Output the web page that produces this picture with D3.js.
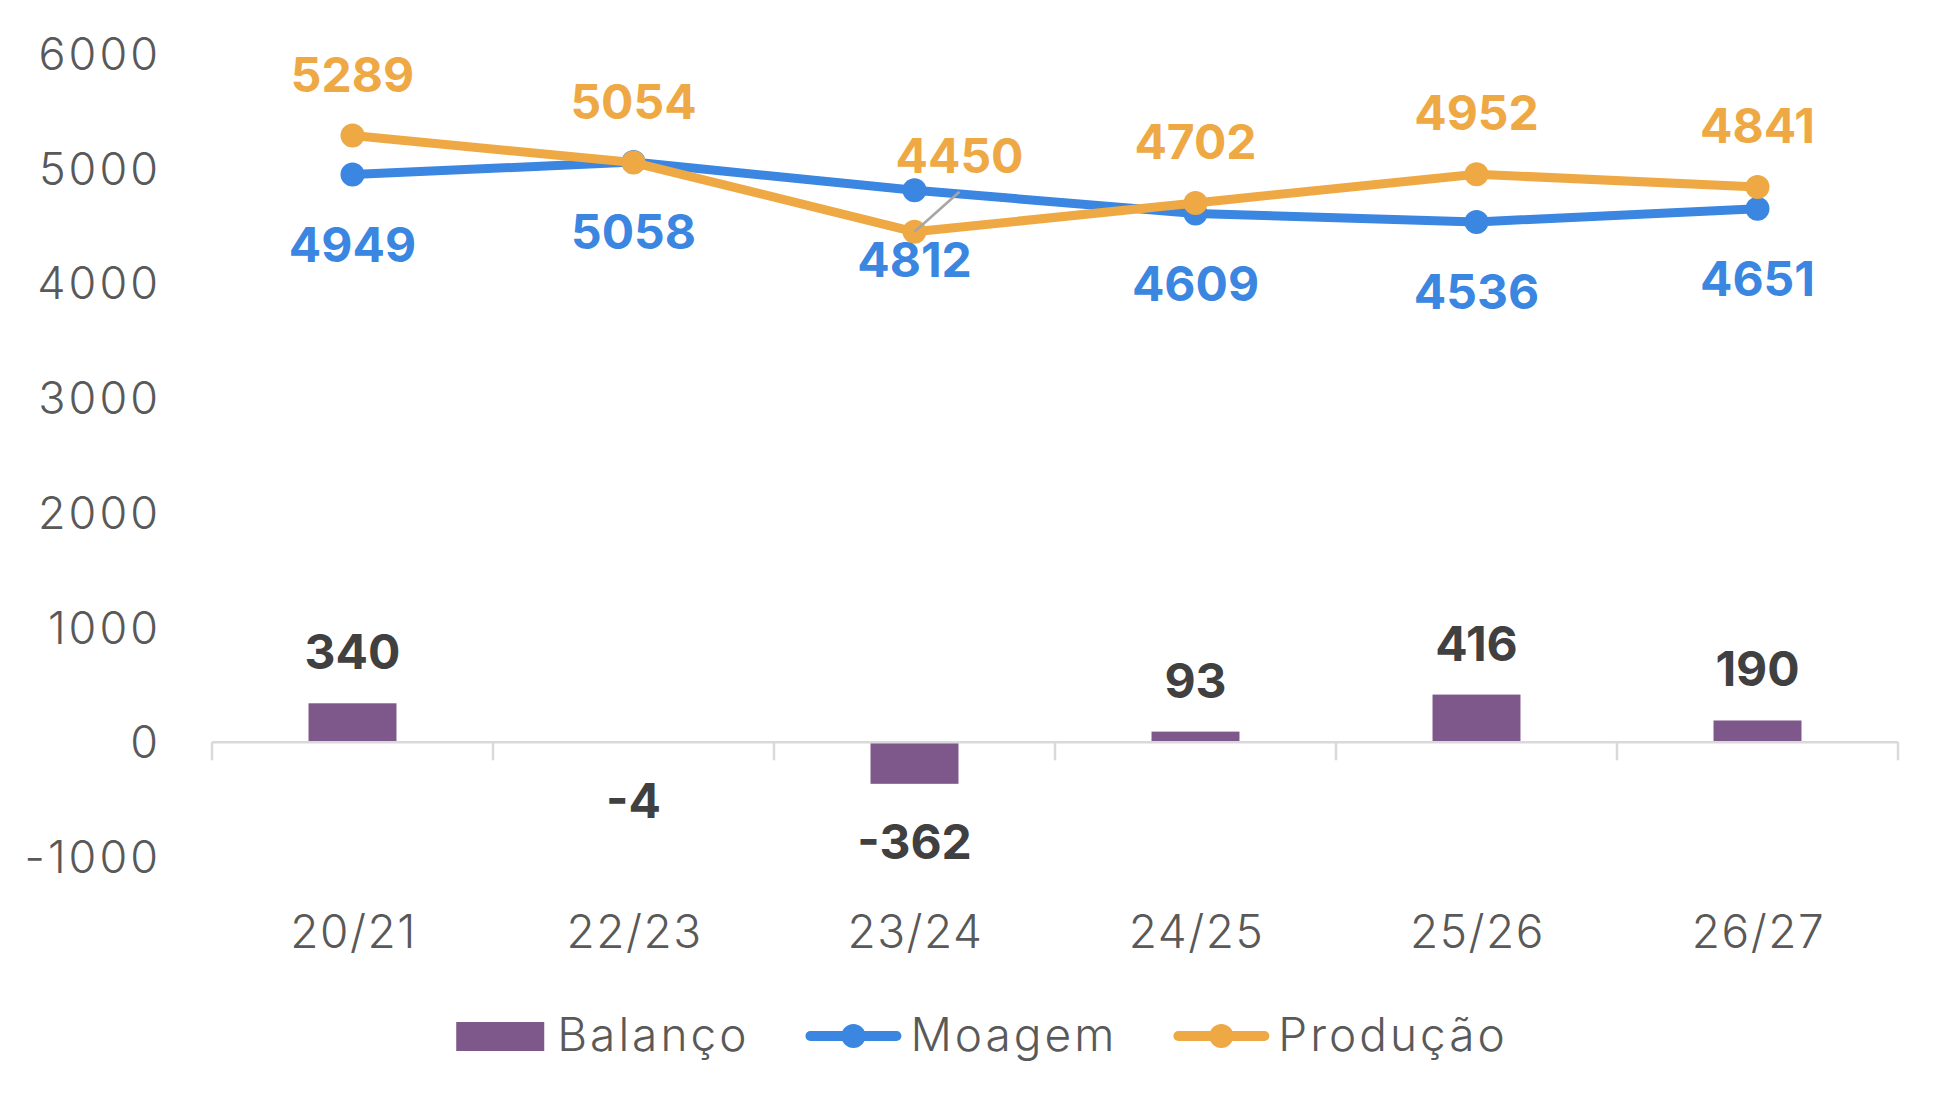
<!DOCTYPE html>
<html>
<head>
<meta charset="utf-8">
<script src="https://cdn.jsdelivr.net/npm/d3@7"></script>
<style>
  html, body { margin: 0; padding: 0; background: #fff; }
  svg { display: block; font-family: Inter, "Noto Sans", sans-serif; }
  .light { font-weight: 300; fill: #595959; letter-spacing: 3px; }
</style>
</head>
<body>
<svg id="chart"></svg>
<script>
// safra labels and the three series
const safras = ['20/21', '22/23', '23/24', '24/25', '25/26', '26/27'];
const balanco = [340, -4, -362, 93, 416, 190];
const moagem = [4949, 5058, 4812, 4609, 4536, 4651];
const producao = [5289, 5054, 4450, 4702, 4952, 4841];
const yTicks = [-1000, 0, 1000, 2000, 3000, 4000, 5000, 6000];

const W = 1949, H = 1111;
const colors = { bal: '#7f588b', moa: '#3a86e0', pro: '#eea944' };

const svg = d3.select('#chart').attr('width', W).attr('height', H);

const x = d3.scaleBand().domain(safras).range([212, 1898]);
const xBar = d3.scaleBand().domain(safras).range([212, 1898])
    .paddingInner(0.687).paddingOuter(0.3435);
const y = d3.scaleLinear().domain([-1000, 6000]).range([857, 54]);
const cx = d => x(d) + x.bandwidth() / 2;

// y tick labels (no axis line)
svg.append('g').selectAll('text')
    .data(yTicks).enter().append('text')
    .attr('class', 'light')
    .attr('x', 161).attr('y', d => y(d) + 16)
    .attr('text-anchor', 'end')
    .style('font-size', '45px')
    .text(d => d);

// bars
svg.append('g').selectAll('rect')
    .data(safras).enter().append('rect')
    .attr('x', d => xBar(d))
    .attr('width', xBar.bandwidth())
    .attr('y', (d, i) => y(Math.max(0, balanco[i])))
    .attr('height', (d, i) => Math.abs(y(balanco[i]) - y(0)))
    .attr('fill', colors.bal);

// x axis at zero
const xAxis = svg.append('g')
    .attr('transform', `translate(0, ${y(0)})`);
xAxis.append('line')
    .attr('x1', 212).attr('x2', 1898)
    .attr('stroke', '#d9d9d9').attr('stroke-width', 2.5);
xAxis.selectAll('.tk')
    .data(safras.concat([null])).enter().append('line')
    .attr('x1', (d, i) => 212 + i * x.step()).attr('x2', (d, i) => 212 + i * x.step())
    .attr('y1', 0).attr('y2', 18)
    .attr('stroke', '#d9d9d9').attr('stroke-width', 2.5);

svg.append('g').selectAll('text')
    .data(safras).enter().append('text')
    .attr('class', 'light')
    .attr('x', d => cx(d) + 1).attr('y', 948)
    .attr('text-anchor', 'middle')
    .style('font-size', '46px').style('letter-spacing', '1.5px')
    .text(d => d);

// lines
const line = d3.line().x((d, i) => cx(safras[i])).y(d => y(d));
[[moagem, colors.moa], [producao, colors.pro]].forEach(([vals, c]) => {
    svg.append('path')
        .datum(vals)
        .attr('d', line)
        .attr('fill', 'none')
        .attr('stroke', c)
        .attr('stroke-width', 9)
        .attr('stroke-linejoin', 'round');
    svg.append('g').selectAll('circle')
        .data(vals).enter().append('circle')
        .attr('cx', (d, i) => cx(safras[i]))
        .attr('cy', d => y(d))
        .attr('r', 12)
        .attr('fill', c);
});

// leader line for the 23/24 producao label
svg.append('line')
    .attr('x1', cx('23/24')).attr('y1', y(producao[2]))
    .attr('x2', cx('23/24') + 45).attr('y2', y(producao[2]) - 40)
    .attr('stroke', '#a6a6a6').attr('stroke-width', 2.5);

// data labels
const lbl = svg.append('g')
    .style('font-size', '48px').style('font-weight', 700)
    .attr('text-anchor', 'middle');

lbl.selectAll('.pro')
    .data(producao).enter().append('text')
    .attr('x', (d, i) => cx(safras[i]) + (i === 2 ? 45 : 0))
    .attr('y', (d, i) => y(d) - (i === 2 ? 76 : 61) + 17)
    .style('fill', colors.pro)
    .text(d => d);

lbl.selectAll('.moa')
    .data(moagem).enter().append('text')
    .attr('x', (d, i) => cx(safras[i]))
    .attr('y', d => y(d) + 70 + 17)
    .style('fill', colors.moa)
    .text(d => d);

lbl.selectAll('.bal')
    .data(balanco).enter().append('text')
    .attr('x', (d, i) => cx(safras[i]))
    .attr('y', d => d >= 0 ? y(d) - 51 + 17 : y(d) + 58 + 17)
    .style('fill', '#404040')
    .text(d => d);

// legend
const legend = svg.append('g');
const items = [
    { name: 'Balanço', type: 'bar', c: colors.bal },
    { name: 'Moagem', type: 'line', c: colors.moa },
    { name: 'Produção', type: 'line', c: colors.pro }
];
let lx = 0;
items.forEach((it, k) => {
    const g = legend.append('g').attr('transform', `translate(${lx}, 0)`);
    if (it.type === 'bar') {
        g.append('rect').attr('x', 0).attr('y', 1022).attr('width', 88).attr('height', 29).attr('fill', it.c);
    } else {
        g.append('line').attr('x1', 5).attr('x2', 91).attr('y1', 1036).attr('y2', 1036)
            .attr('stroke', it.c).attr('stroke-width', 10).attr('stroke-linecap', 'round');
        g.append('circle').attr('cx', 48).attr('cy', 1036).attr('r', 12).attr('fill', it.c);
    }
    const t = g.append('text')
        .attr('class', 'light')
        .attr('x', it.type === 'bar' ? 101 : 105).attr('y', 1051)
        .style('font-size', '46px')
        .text(it.name);
    lx += (it.type === 'bar' ? 101 : 105) + t.node().getComputedTextLength() + 56;
});
const lw = lx - 56;
legend.attr('transform', `translate(${982 - lw / 2}, 0)`);
</script>
</body>
</html>
